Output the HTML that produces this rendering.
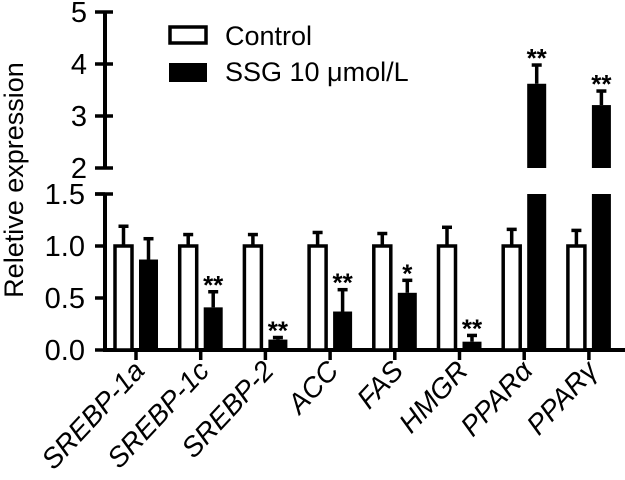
<!DOCTYPE html>
<html><head><meta charset="utf-8"><style>
body{margin:0;background:#fff;}
svg{display:block;font-family:"Liberation Sans",sans-serif;}
</style></head><body>
<svg id="chart" width="625" height="480" viewBox="0 0 625 480"></svg>
<script>
const categories=["SREBP-1a","SREBP-1c","SREBP-2","ACC","FAS","HMGR","PPARα","PPARγ"];
const controlValues=[1,1,1,1,1,1,1,1];
const controlErrors=[0.19,0.11,0.11,0.13,0.12,0.18,0.16,0.15];
const ssgValues=[0.87,0.41,0.10,0.37,0.55,0.08,3.62,3.21];
const ssgErrors=[0.2,0.15,0.02,0.21,0.12,0.06,0.36,0.27];
const stars=["","**","**","**","*","**","**","**"];
const lowTicks=["0.0","0.5","1.0","1.5"];
const lowTickVals=[0,0.5,1,1.5];
const highTickVals=[2,3,4,5];

const NS="http://www.w3.org/2000/svg";
const svg=document.getElementById('chart');
function el(t,a,p){const e=document.createElementNS(NS,t);for(const k in a)e.setAttribute(k,a[k]);(p||svg).appendChild(e);return e;}
function yLow(v){return 350-v*104;}
function yHigh(v){return 168-(v-2)*52;}
function yAny(v){return v<=1.5?yLow(v):yHigh(Math.max(v,2));}
function xTick(i){return 136+i*64.7;}

let a=el('line',{x1:105,y1:194,x2:105,y2:350,stroke:'#000','stroke-width':4});

a=el('line',{x1:105,y1:12,x2:105,y2:168,stroke:'#000','stroke-width':4});

lowTickVals.forEach((v,i)=>{
  const y=yLow(v);
  el('line',{x1:95,y1:y,x2:105,y2:y,stroke:'#000','stroke-width':3.5});
  const t=el('text',{x:85,y:y+10,'text-anchor':'end','font-size':29});t.textContent=lowTicks[i];
  
});
highTickVals.forEach(v=>{
  const y=yHigh(v);
  el('line',{x1:95,y1:y,x2:113,y2:y,stroke:'#000','stroke-width':3.5});
  const t=el('text',{x:87,y:y+10,'text-anchor':'end','font-size':29});t.textContent=String(v);
  
});
el('line',{x1:95,y1:194,x2:113,y2:194,stroke:'#000','stroke-width':3.5});
let yt=el('text',{x:0,y:0,'text-anchor':'middle','font-size':27,transform:'translate(23,180) rotate(-90)'});
yt.textContent='Reletive expression';


a=el('line',{x1:103,y1:350,x2:625,y2:350,stroke:'#000','stroke-width':4});


function errBar(x,top,bottom){
  el('line',{x1:x,y1:top,x2:x,y2:bottom,stroke:'#000','stroke-width':3.5});
  el('line',{x1:x-5,y1:top,x2:x+5,y2:top,stroke:'#000','stroke-width':3.5});
}
categories.forEach((c,i)=>{
  const xt=xTick(i);
  el('line',{x1:xt,y1:350,x2:xt,y2:360,stroke:'#000','stroke-width':3.5});
  const cx=xt-21,cw=17;
  const cy=yLow(controlValues[i]);
  errBar(cx+cw/2,yLow(controlValues[i]+controlErrors[i]),cy);
  let r=el('rect',{x:cx,y:cy,width:cw,height:350-cy,fill:'#fff',stroke:'#000','stroke-width':3.5});
  
  const sx=xt+3,sw=19;const v=ssgValues[i];
  const topY=yAny(v+ssgErrors[i]);
  const sy=yAny(v);
  errBar(sx+sw/2,topY,sy);
  if(v>1.5){
    r=el('rect',{x:sx,y:194,width:sw,height:156,fill:'#000'});
    
    r=el('rect',{x:sx,y:sy,width:sw,height:168-sy,fill:'#000'});
    
  } else {
    r=el('rect',{x:sx,y:sy,width:sw,height:350-sy,fill:'#000'});
    
  }
  if(stars[i]){
    const s=el('text',{x:sx+sw/2,y:topY+2,'text-anchor':'middle','font-size':26,'font-weight':'bold'});
    s.textContent=stars[i];
    
  }
  const lt=el('text',{x:0,y:0,'text-anchor':'end','font-size':28,'font-style':'italic',transform:`translate(${xt+10},${372}) rotate(-47)`});
  lt.textContent=c;
  
});

const lg=el('g',{});

let lr=el('rect',{x:170,y:27,width:36,height:16,fill:'#fff',stroke:'#000','stroke-width':3.5},lg);

let lt=el('text',{x:225,y:45,'font-size':27},lg);lt.textContent='Control';

lr=el('rect',{x:169,y:63,width:38,height:19,fill:'#000'},lg);

lt=el('text',{x:225,y:81,'font-size':27},lg);lt.textContent='SSG 10 μmol/L';

</script>
</body></html>
